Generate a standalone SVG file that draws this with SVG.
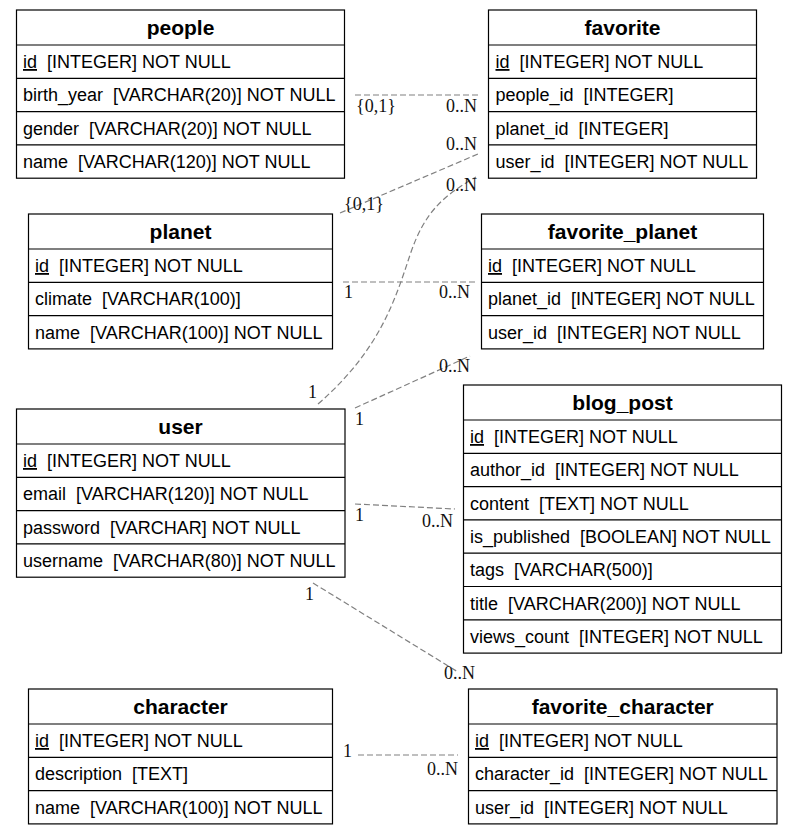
<svg xmlns="http://www.w3.org/2000/svg" width="797" height="835" viewBox="0 0 797 835">
<style>
.box{fill:#fff;stroke:#000;stroke-width:1.2}
.sep{stroke:#000;stroke-width:1.2;fill:none}
.hd{font-family:"Liberation Sans",Arial,sans-serif;font-size:21px;font-weight:bold;text-anchor:middle;fill:#000}
.rw{font-family:"Liberation Sans",Arial,sans-serif;font-size:18px;fill:#000;white-space:pre}
.pk{text-decoration:underline}
.edge{stroke:#808080;stroke-width:1.2;stroke-dasharray:6,3;fill:none}
.lb{font-family:"Liberation Serif","Times New Roman",serif;font-size:18px;fill:#111}
.e{text-anchor:end}
</style>
<rect width="797" height="835" fill="#fff"/>
<g id="connectors">
  <path class="edge" d="M355,95 L478,95"/>
  <text class="lb" x="356" y="112">{0,1}</text>
  <text class="lb e" x="477" y="112">0..N</text>

  <path class="edge" d="M340,213 L478,154"/>
  <text class="lb" x="344" y="210">{0,1}</text>
  <text class="lb e" x="477" y="150">0..N</text>

  <path class="edge" d="M318,404 C380,350 395,300 410,255 C425,210 445,195 476,177"/>
  <text class="lb" x="308" y="398">1</text>
  <text class="lb e" x="477" y="191">0..N</text>

  <path class="edge" d="M343,282 L475,282"/>
  <text class="lb" x="344" y="298">1</text>
  <text class="lb e" x="470" y="298">0..N</text>

  <path class="edge" d="M355,408 L470,356"/>
  <text class="lb" x="355" y="425">1</text>
  <text class="lb e" x="470" y="372">0..N</text>

  <path class="edge" d="M355,504 L455,509"/>
  <text class="lb" x="355" y="521">1</text>
  <text class="lb e" x="453" y="527">0..N</text>

  <path class="edge" d="M313,583 L458,672"/>
  <text class="lb" x="305" y="600">1</text>
  <text class="lb e" x="475" y="679">0..N</text>

  <path class="edge" d="M358,755 L458,755"/>
  <text class="lb" x="343" y="757">1</text>
  <text class="lb e" x="458" y="775">0..N</text>
</g>

<g id="people">
  <rect class="box" x="16.5" y="10" width="328" height="168.2"/>
  <path class="sep" d="M16.5,45H344.5M16.5,78.3H344.5M16.5,111.6H344.5M16.5,144.9H344.5"/>
  <text class="hd" x="180.5" y="35">people</text>
  <text class="rw" x="23" y="68"><tspan class="pk">id</tspan>  [INTEGER] NOT NULL</text>
  <text class="rw" x="23" y="101.3">birth_year  [VARCHAR(20)] NOT NULL</text>
  <text class="rw" x="23" y="134.6">gender  [VARCHAR(20)] NOT NULL</text>
  <text class="rw" x="23" y="167.9">name  [VARCHAR(120)] NOT NULL</text>
</g>

<g id="favorite">
  <rect class="box" x="488.5" y="10" width="268" height="168.2"/>
  <path class="sep" d="M488.5,45H756.5M488.5,78.3H756.5M488.5,111.6H756.5M488.5,144.9H756.5"/>
  <text class="hd" x="622.5" y="35">favorite</text>
  <text class="rw" x="495.5" y="68"><tspan class="pk">id</tspan>  [INTEGER] NOT NULL</text>
  <text class="rw" x="495.5" y="101.3">people_id  [INTEGER]</text>
  <text class="rw" x="495.5" y="134.6">planet_id  [INTEGER]</text>
  <text class="rw" x="495.5" y="167.9">user_id  [INTEGER] NOT NULL</text>
</g>

<g id="planet">
  <rect class="box" x="28.5" y="214" width="304" height="134.9"/>
  <path class="sep" d="M28.5,249H332.5M28.5,282.3H332.5M28.5,315.6H332.5"/>
  <text class="hd" x="180.5" y="239">planet</text>
  <text class="rw" x="35" y="272"><tspan class="pk">id</tspan>  [INTEGER] NOT NULL</text>
  <text class="rw" x="35" y="305.3">climate  [VARCHAR(100)]</text>
  <text class="rw" x="35" y="338.6">name  [VARCHAR(100)] NOT NULL</text>
</g>

<g id="favorite_planet">
  <rect class="box" x="481.5" y="214" width="282" height="134.9"/>
  <path class="sep" d="M481.5,249H763.5M481.5,282.3H763.5M481.5,315.6H763.5"/>
  <text class="hd" x="622.5" y="239">favorite_planet</text>
  <text class="rw" x="488" y="272"><tspan class="pk">id</tspan>  [INTEGER] NOT NULL</text>
  <text class="rw" x="488" y="305.3">planet_id  [INTEGER] NOT NULL</text>
  <text class="rw" x="488" y="338.6">user_id  [INTEGER] NOT NULL</text>
</g>

<g id="user">
  <rect class="box" x="16.5" y="409" width="328.5" height="168.2"/>
  <path class="sep" d="M16.5,444H345M16.5,477.3H345M16.5,510.6H345M16.5,543.9H345"/>
  <text class="hd" x="180.5" y="434">user</text>
  <text class="rw" x="23" y="467"><tspan class="pk">id</tspan>  [INTEGER] NOT NULL</text>
  <text class="rw" x="23" y="500.3">email  [VARCHAR(120)] NOT NULL</text>
  <text class="rw" x="23" y="533.6">password  [VARCHAR] NOT NULL</text>
  <text class="rw" x="23" y="566.9">username  [VARCHAR(80)] NOT NULL</text>
</g>

<g id="blog_post">
  <rect class="box" x="463.5" y="385" width="318" height="268.1"/>
  <path class="sep" d="M463.5,420H781.5M463.5,453.3H781.5M463.5,486.6H781.5M463.5,519.9H781.5M463.5,553.2H781.5M463.5,586.5H781.5M463.5,619.8H781.5"/>
  <text class="hd" x="622.5" y="410">blog_post</text>
  <text class="rw" x="470" y="443"><tspan class="pk">id</tspan>  [INTEGER] NOT NULL</text>
  <text class="rw" x="470" y="476.3">author_id  [INTEGER] NOT NULL</text>
  <text class="rw" x="470" y="509.6">content  [TEXT] NOT NULL</text>
  <text class="rw" x="470" y="542.9">is_published  [BOOLEAN] NOT NULL</text>
  <text class="rw" x="470" y="576.2">tags  [VARCHAR(500)]</text>
  <text class="rw" x="470" y="609.5">title  [VARCHAR(200)] NOT NULL</text>
  <text class="rw" x="470" y="642.8">views_count  [INTEGER] NOT NULL</text>
</g>

<g id="character">
  <rect class="box" x="28.5" y="689" width="304" height="134.9"/>
  <path class="sep" d="M28.5,724H332.5M28.5,757.3H332.5M28.5,790.6H332.5"/>
  <text class="hd" x="180.5" y="714">character</text>
  <text class="rw" x="35" y="747"><tspan class="pk">id</tspan>  [INTEGER] NOT NULL</text>
  <text class="rw" x="35" y="780.3">description  [TEXT]</text>
  <text class="rw" x="35" y="813.6">name  [VARCHAR(100)] NOT NULL</text>
</g>

<g id="favorite_character">
  <rect class="box" x="468.5" y="689" width="308.5" height="134.9"/>
  <path class="sep" d="M468.5,724H777M468.5,757.3H777M468.5,790.6H777"/>
  <text class="hd" x="622.75" y="714">favorite_character</text>
  <text class="rw" x="475" y="747"><tspan class="pk">id</tspan>  [INTEGER] NOT NULL</text>
  <text class="rw" x="475" y="780.3">character_id  [INTEGER] NOT NULL</text>
  <text class="rw" x="475" y="813.6">user_id  [INTEGER] NOT NULL</text>
</g>
</svg>
